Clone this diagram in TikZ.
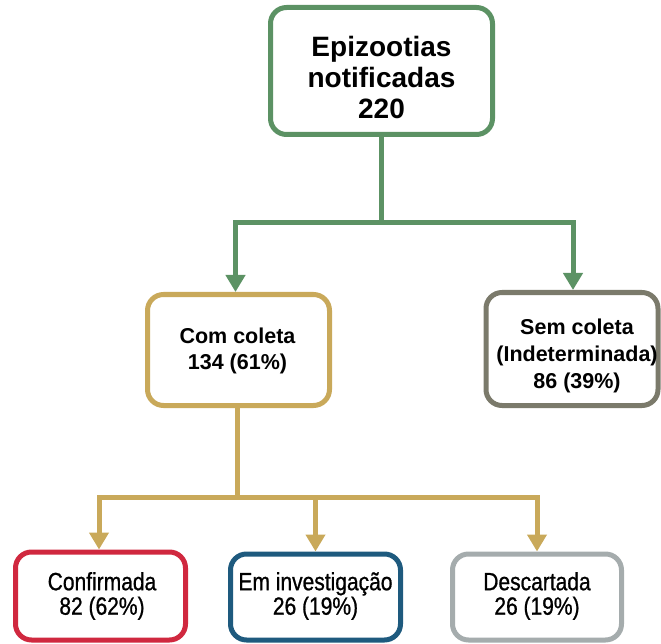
\documentclass[tikz,border=0pt]{standalone}
\usepackage{fontspec}
\setmainfont{Liberation Sans}
\newfontfamily\narrowfont[FakeStretch=0.84,FakeBold=0.8]{Liberation Sans}
\usetikzlibrary{arrows.meta}
\definecolor{cgreen}{HTML}{5C9264}
\definecolor{cgold}{HTML}{C9A95A}
\definecolor{colive}{HTML}{7B7A6B}
\definecolor{cred}{HTML}{D0283F}
\definecolor{cblue}{HTML}{1E5A7E}
\definecolor{cgray}{HTML}{A5ACAD}
\tikzset{
  boxnode/.style={draw, line width=5pt, rounded corners=16pt, fill=white},
  topfont/.style={font=\fontsize{28}{31}\selectfont\bfseries, align=center, text=black},
  midfont/.style={font=\fontsize{21.5}{26.5}\selectfont\bfseries, align=center, text=black},
  semfont/.style={font=\fontsize{21.5}{27}\selectfont\bfseries, align=center, text=black},
  lowfont/.style={font=\narrowfont\fontsize{25}{24.5}\selectfont, align=center, text=black},
  garrow/.style={draw=cgreen, line width=5pt, -{Triangle[width=19pt,length=17pt]}},
  gline/.style={draw=cgreen, line width=5pt},
  yarrow/.style={draw=cgold, line width=5pt, -{Triangle[width=19pt,length=17pt]}},
  yline/.style={draw=cgold, line width=5pt},
}
\begin{document}
\begin{tikzpicture}[x=1pt,y=-1pt]
\useasboundingbox (0,0) rectangle (661,644);
% boxes
\node[boxnode, draw=cgreen, minimum width=222pt, minimum height=127pt] (top) at (381.5,71) {};
\node[topfont] (toptxt) at (381.5,77) {Epizootias\\notificadas\\220};
\node[boxnode, draw=cgold, minimum width=182pt, minimum height=111pt] (com) at (238.5,350) {};
\node[midfont] (comtxt) at (237.5,351) {Com coleta\\134 (61\%)};
\node[boxnode, draw=colive, minimum width=172pt, minimum height=113pt] (sem) at (572,349) {};
\node[semfont] (semtxt) at (577,356) {Sem coleta\\(Indeterminada)\\86 (39\%)};
\node[boxnode, draw=cred, minimum width=170pt, minimum height=88pt] (conf) at (100.5,596) {};
\node[lowfont] (conftxt) at (102,596) {Confirmada\\82 (62\%)};
\node[boxnode, draw=cblue, minimum width=170pt, minimum height=86pt] (inv) at (315.5,597) {};
\node[lowfont] (invtxt) at (315.5,596) {Em investigação\\26 (19\%)};
\node[boxnode, draw=cgray, minimum width=169pt, minimum height=86pt] (desc) at (537,597) {};
\node[lowfont] (desctxt) at (537,596) {Descartada\\26 (19\%)};
% green connectors
\coordinate (j1) at (381.5,223);
\draw[gline] (top.south) -- (j1);
\draw[garrow] (j1) -| ([xshift=-3pt]com.north);
\draw[garrow] (j1) -| ([xshift=1pt]sem.north);
% gold connectors
\coordinate (j2) at (237,497);
\draw[yline] ([xshift=-1.5pt]com.south) -- (j2);
\draw[yarrow] (j2) -| ([xshift=-1.5pt]conf.north);
\draw[yarrow] (j2) -| (inv.north);
\draw[yarrow] (j2) -| (desc.north);
\end{tikzpicture}
\end{document}
